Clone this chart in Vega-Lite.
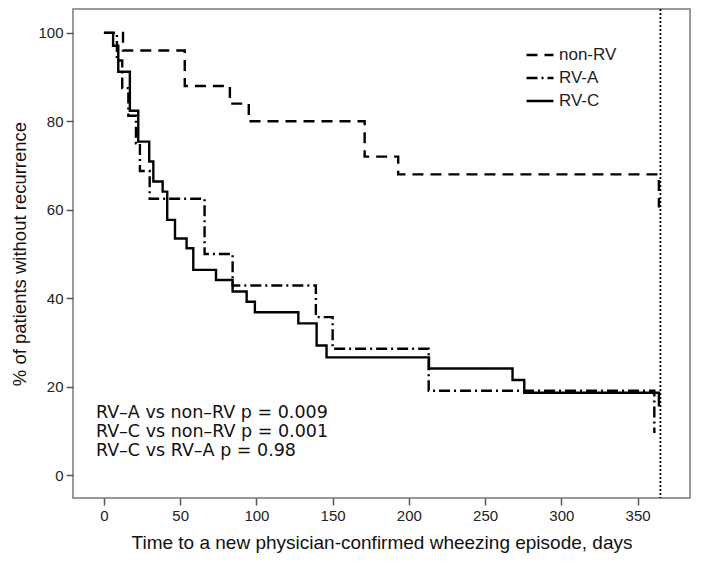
{
  "$schema": "https://vega.github.io/schema/vega-lite/v6.json",
  "width": 617,
  "height": 489,
  "autosize": {"type": "none"},
  "padding": {"left": 73, "top": 9, "right": 11, "bottom": 69},
  "background": "white",
  "config": {
    "view": {"stroke": "#777777", "strokeWidth": 1.5},
    "font": "Liberation Sans",
    "axis": {
      "grid": false,
      "domain": false,
      "tickColor": "#555555",
      "tickWidth": 1.5,
      "labelColor": "#222222",
      "titleColor": "#111111",
      "labelFont": "Liberation Sans",
      "titleFont": "Liberation Sans",
      "titleFontWeight": "normal"
    }
  },
  "datasets": {
    "curves": [
      {"group": "non-RV", "day": 0, "pct": 100},
      {"group": "non-RV", "day": 12.5, "pct": 96},
      {"group": "non-RV", "day": 53, "pct": 88},
      {"group": "non-RV", "day": 82.6, "pct": 84},
      {"group": "non-RV", "day": 95, "pct": 80},
      {"group": "non-RV", "day": 171, "pct": 72},
      {"group": "non-RV", "day": 193, "pct": 68},
      {"group": "non-RV", "day": 364, "pct": 60.5},
      {"group": "RV-A", "day": 0, "pct": 100},
      {"group": "RV-A", "day": 8.5, "pct": 93.75},
      {"group": "RV-A", "day": 12, "pct": 87.5},
      {"group": "RV-A", "day": 16, "pct": 81.25},
      {"group": "RV-A", "day": 21, "pct": 75},
      {"group": "RV-A", "day": 23.6, "pct": 68.75},
      {"group": "RV-A", "day": 30, "pct": 62.5},
      {"group": "RV-A", "day": 66, "pct": 50},
      {"group": "RV-A", "day": 84.4, "pct": 42.86},
      {"group": "RV-A", "day": 139, "pct": 35.71},
      {"group": "RV-A", "day": 150, "pct": 28.57},
      {"group": "RV-A", "day": 213, "pct": 19.05},
      {"group": "RV-A", "day": 361, "pct": 9.52},
      {"group": "RV-C", "day": 0, "pct": 100},
      {"group": "RV-C", "day": 6, "pct": 97.1},
      {"group": "RV-C", "day": 9.4, "pct": 91.2},
      {"group": "RV-C", "day": 17, "pct": 82.4},
      {"group": "RV-C", "day": 22.5, "pct": 75.4},
      {"group": "RV-C", "day": 29.7, "pct": 70.9},
      {"group": "RV-C", "day": 32.4, "pct": 66.4},
      {"group": "RV-C", "day": 38.5, "pct": 64.1},
      {"group": "RV-C", "day": 41.5, "pct": 57.7},
      {"group": "RV-C", "day": 46.6, "pct": 53.5},
      {"group": "RV-C", "day": 54.2, "pct": 51.3},
      {"group": "RV-C", "day": 58.6, "pct": 46.4},
      {"group": "RV-C", "day": 73.5, "pct": 44.1},
      {"group": "RV-C", "day": 84.4, "pct": 41.5},
      {"group": "RV-C", "day": 93.6, "pct": 39.2},
      {"group": "RV-C", "day": 99, "pct": 36.8},
      {"group": "RV-C", "day": 127.5, "pct": 34.3},
      {"group": "RV-C", "day": 139.5, "pct": 29.3},
      {"group": "RV-C", "day": 146, "pct": 26.6},
      {"group": "RV-C", "day": 213.2, "pct": 24.1},
      {"group": "RV-C", "day": 268, "pct": 21.5},
      {"group": "RV-C", "day": 275.7, "pct": 18.6},
      {"group": "RV-C", "day": 364, "pct": 15.5}
    ],
    "notes": [
      {"label": "RV–A vs non–RV p = 0.009", "day": -5.25, "pct": 12.8},
      {"label": "RV–C vs non–RV p = 0.001", "day": -5.25, "pct": 8.5},
      {"label": "RV–C vs RV–A p = 0.98", "day": -5.25, "pct": 4.3}
    ],
    "ref": [{"day": 365}]
  },
  "layer": [
    {
      "data": {"name": "curves"},
      "mark": {"type": "line", "interpolate": "step-after", "color": "black", "strokeWidth": 2.4},
      "encoding": {
        "x": {
          "field": "day", "type": "quantitative",
          "scale": {"domain": [-20.3, 384.4], "nice": false, "zero": false},
          "axis": {
            "values": [0, 50, 100, 150, 200, 250, 300, 350],
            "tickSize": 7, "labelPadding": 3, "labelFontSize": 15,
            "title": "Time to a new physician-confirmed wheezing episode, days",
            "titleFontSize": 19, "titlePadding": 10
          }
        },
        "y": {
          "field": "pct", "type": "quantitative",
          "scale": {"domain": [-5.2, 105.4], "nice": false, "zero": false},
          "axis": {
            "values": [0, 20, 40, 60, 80, 100],
            "tickSize": 7, "labelPadding": 3, "labelFontSize": 15,
            "title": "% of patients without recurrence",
            "titleFontSize": 18.5, "titlePadding": 8
          }
        },
        "strokeDash": {
          "field": "group", "type": "nominal",
          "scale": {"domain": ["non-RV", "RV-A", "RV-C"], "range": [[11, 7], [11, 4, 2, 4], [1, 0]]},
          "legend": {
            "title": null, "orient": "none", "legendX": 452, "legendY": 31,
            "symbolType": "stroke", "symbolSize": 729, "symbolStrokeWidth": 2.5,
            "symbolStrokeColor": "black",
            "labelFontSize": 17, "labelFont": "Liberation Sans", "labelColor": "#222222",
            "labelOffset": 4, "rowPadding": -9
          }
        }
      }
    },
    {
      "data": {"name": "ref"},
      "mark": {"type": "rule", "color": "black", "strokeWidth": 1.8, "strokeDash": [2, 2]},
      "encoding": {"x": {"field": "day", "type": "quantitative"}}
    },
    {
      "data": {"name": "notes"},
      "mark": {"type": "text", "align": "left", "baseline": "alphabetic", "font": "DejaVu Sans", "fontSize": 17.5, "color": "#111111"},
      "encoding": {
        "x": {"field": "day", "type": "quantitative"},
        "y": {"field": "pct", "type": "quantitative"},
        "text": {"field": "label"}
      }
    }
  ]
}
